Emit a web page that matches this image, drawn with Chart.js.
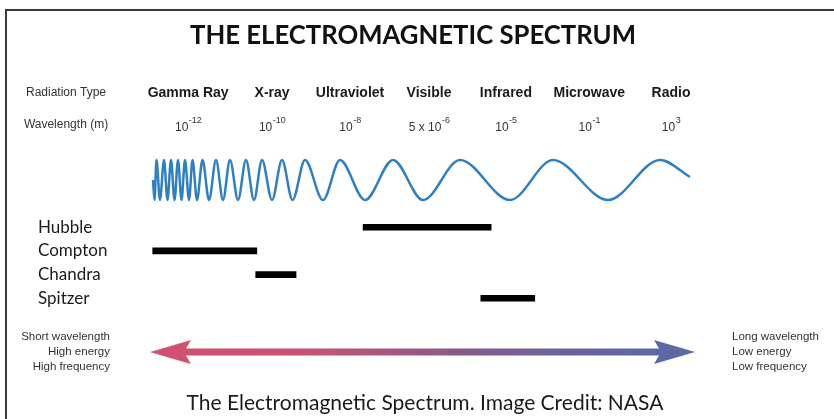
<!DOCTYPE html>
<html lang="en">
<head>
  <meta charset="UTF-8">
  <title>The Electromagnetic Spectrum</title>
  <style>
    body {
      margin: 0;
      background-color: #ffffff;
    }

    .chart-box {
      width: 834px;
      height: 419px;
    }
  </style>
</head>
<body>
  <div class="chart-box">
    <canvas id="spectrum-chart" width="834" height="419"></canvas>
  </div>

  <script src="https://cdn.jsdelivr.net/npm/chart.js@4"></script>
  <script>
    // Radiation bands, placed along the spectrum (0 = short end, 100 = long end)
    const bandNames = ["Gamma Ray", "X-ray", "Ultraviolet", "Visible", "Infrared", "Microwave", "Radio"];
    const bandPositions = [7.0, 22.4, 36.7, 51.2, 65.3, 80.6, 95.6];
    const wavelengthBase = ["10", "10", "10", "5 x 10", "10", "10", "10"];
    const wavelengthExp = ["-12", "-10", "-8", "-6", "-5", "-1", "3"];

    // Telescopes and the stretch of the spectrum each one observes
    const telescopes = ["Hubble", "Compton", "Chandra", "Spitzer"];
    const telescopeRows = [1, 2, 3, 4];
    const coverageStart = [39.1, 0.5, 19.4, 60.7];
    const coverageEnd = [62.6, 19.6, 26.8, 70.6];

    // Wave crests (+1) and troughs (-1)
    const wavePositions = [
      0.55, 0.83, 1.19, 1.83, 2.57, 3.21, 3.85, 4.50, 5.14, 5.78,
      6.42, 7.16, 7.80, 8.62, 9.63, 10.83, 12.11, 13.39, 14.68, 16.15,
      17.61, 19.08, 20.55, 22.39, 24.22, 26.15, 28.44, 31.74, 34.86, 39.45,
      44.59, 50.09, 56.88, 66.06, 73.94, 84.04, 93.58, 99.08
    ];
    const waveValues = [
      0, -1, 1, -1, 1, -1, 1, -1, 1, -1,
      1, -1, 1, -1, 1, -1, 1, -1, 1, -1,
      1, -1, 1, -1, 1, -1, 1, -1, 1, -1,
      1, -1, 1, -1, 1, -1, 1, 0.15
    ];

    // Double arrow under the telescopes
    const arrowEnds = [0, 100];
    const arrowRow = 6.27;

    const shortEndText = ["Short wavelength", "High energy", "High frequency"];
    const longEndText = ["Long wavelength", "Low energy", "Low frequency"];
    const titleText = "THE ELECTROMAGNETIC SPECTRUM";
    const captionText = "The Electromagnetic Spectrum. Image Credit: NASA";

    const sansFont = '"Liberation Sans", Arial, sans-serif';
    const calibriLike = 'Lato, "Open Sans", sans-serif';

    // Arrow head picture, tip in the middle, pointing left
    function makeArrowHead(color) {
      const c = document.createElement("canvas");
      c.width = 84;
      c.height = 28;
      const g = c.getContext("2d");
      g.fillStyle = color;
      g.beginPath();
      g.moveTo(42, 14);
      g.lineTo(83, 2);
      g.lineTo(76, 14);
      g.lineTo(83, 26);
      g.closePath();
      g.fill();
      return c;
    }

    function arrowGradient(context) {
      const area = context.chart.chartArea;
      if (!area) return "#8c5a8a";
      const g = context.chart.ctx.createLinearGradient(area.left, 0, area.right, 0);
      g.addColorStop(0, "#d44f6f");
      g.addColorStop(0.3, "#c65273");
      g.addColorStop(0.55, "#8c5a8a");
      g.addColorStop(0.8, "#6663a0");
      g.addColorStop(1, "#5b6aa6");
      return g;
    }

    // Frame, header rows, side notes, title and caption
    const spectrumText = {
      id: "spectrumText",
      beforeDraw(chart) {
        const ctx = chart.ctx;
        ctx.save();
        ctx.strokeStyle = "#3a3a3a";
        ctx.lineWidth = 2;
        ctx.beginPath();
        ctx.moveTo(6, chart.height);
        ctx.lineTo(6, 10);
        ctx.lineTo(chart.width, 10);
        ctx.stroke();
        ctx.restore();
      },
      afterDraw(chart) {
        const ctx = chart.ctx;
        const xs = chart.scales.x;
        const ys = chart.scales.y;
        ctx.save();
        ctx.textBaseline = "middle";

        ctx.fillStyle = "#111111";
        ctx.font = "bold 27px " + calibriLike;
        ctx.textAlign = "center";
        ctx.fillText(titleText, 413, 35, 446);

        ctx.fillStyle = "#333333";
        ctx.font = "12px " + sansFont;
        ctx.fillText("Radiation Type", 66, 93, 88);
        ctx.fillText("Wavelength (m)", 66, 125, 88);

        bandNames.forEach((name, i) => {
          const px = xs.getPixelForValue(bandPositions[i]);
          ctx.fillStyle = "#1a1a1a";
          ctx.font = "bold 14px " + sansFont;
          ctx.textAlign = "center";
          ctx.fillText(name, px, 93);

          ctx.fillStyle = "#333333";
          ctx.font = "12px " + sansFont;
          const bw = ctx.measureText(wavelengthBase[i]).width;
          ctx.font = "9px " + sansFont;
          const ew = ctx.measureText(wavelengthExp[i]).width;
          const left = px - (bw + ew) / 2;
          ctx.textAlign = "left";
          ctx.font = "12px " + sansFont;
          ctx.fillText(wavelengthBase[i], left, 128);
          ctx.font = "9px " + sansFont;
          ctx.fillText(wavelengthExp[i], left + bw + 0.5, 121);
        });

        ctx.fillStyle = "#1a1a1a";
        ctx.font = "17px " + calibriLike;
        ctx.textAlign = "left";
        telescopes.forEach((name, i) => {
          ctx.fillText(name, 38, ys.getPixelForValue(telescopeRows[i]));
        });

        ctx.fillStyle = "#333333";
        ctx.font = "11.5px " + sansFont;
        const arrowY = ys.getPixelForValue(arrowRow);
        shortEndText.forEach((line, i) => {
          ctx.textAlign = "right";
          ctx.fillText(line, 110, arrowY + (i - 1) * 15, 90);
        });
        longEndText.forEach((line, i) => {
          ctx.textAlign = "left";
          ctx.fillText(line, 732, arrowY + (i - 1) * 15, 90);
        });

        ctx.fillStyle = "#1a1a1a";
        ctx.font = "21px " + calibriLike;
        ctx.textAlign = "center";
        ctx.fillText(captionText, 425, 403, 486);
        ctx.restore();
      }
    };

    const ctx = document.getElementById("spectrum-chart").getContext("2d");

    const spectrumChart = new Chart(ctx, {
      type: "line",
      data: {
        datasets: [
          {
            label: "Wave",
            data: wavePositions.map((x, i) => ({ x: x, y: waveValues[i] })),
            yAxisID: "yWave",
            borderColor: "#2f7fc1",
            borderWidth: 2.5,
            pointRadius: 0,
            cubicInterpolationMode: "monotone",
            fill: false,
            clip: false
          },
          {
            label: "Coverage",
            type: "bar",
            indexAxis: "y",
            data: telescopes.map((t, i) => ({ x: [coverageStart[i], coverageEnd[i]], y: telescopeRows[i] })),
            yAxisID: "y",
            backgroundColor: "#000000",
            borderWidth: 0,
            barThickness: 6
          },
          {
            label: "Arrow shaft",
            data: arrowEnds.map((x) => ({ x: x, y: arrowRow })),
            yAxisID: "y",
            borderColor: arrowGradient,
            borderWidth: 7,
            borderCapStyle: "butt",
            pointRadius: 0,
            fill: false,
            clip: { left: -12, right: -12, top: false, bottom: false }
          },
          {
            label: "Arrow heads",
            data: arrowEnds.map((x) => ({ x: x, y: arrowRow })),
            yAxisID: "y",
            showLine: false,
            pointStyle: [makeArrowHead("#d44f6f"), makeArrowHead("#5b6aa6")],
            pointRotation: [0, 180],
            pointRadius: 1,
            pointHoverRadius: 1,
            pointBorderWidth: 0,
            clip: false
          }
        ]
      },
      options: {
        responsive: false,
        animation: false,
        devicePixelRatio: 1,
        layout: {
          autoPadding: false,
          padding: { left: 150, right: 139, top: 0, bottom: 0 }
        },
        plugins: {
          legend: { display: false },
          tooltip: { enabled: false },
          title: { display: false }
        },
        scales: {
          x: { type: "linear", min: 0, max: 100, offset: false, display: false },
          y: { type: "linear", reverse: true, min: -8.6, max: 9.1, offset: false, display: false },
          yWave: { type: "linear", min: -11.95, max: 9.0, offset: false, display: false }
        }
      },
      plugins: [spectrumText]
    });
  </script>
</body>
</html>
